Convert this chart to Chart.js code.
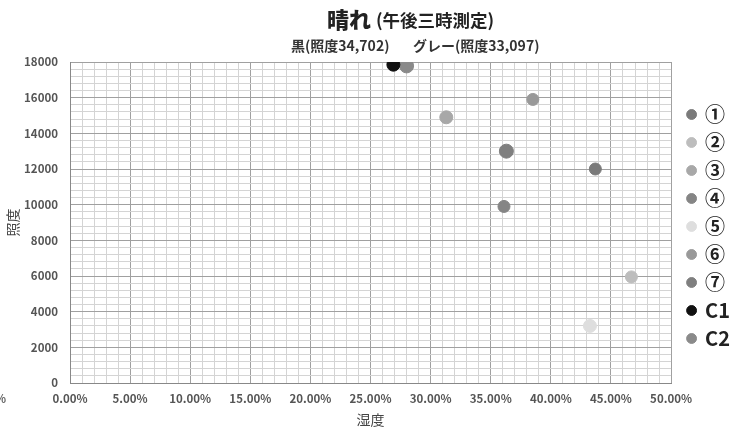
<!DOCTYPE html>
<html>
<head>
<meta charset="utf-8">
<script src="https://cdn.jsdelivr.net/npm/chart.js@4/dist/chart.umd.min.js"></script>
<style>
  html, body { margin: 0; padding: 0; background: #fff; }
  #wrap { width: 750px; height: 428px; position: relative; }
</style>
</head>
<body>
<div id="wrap"><canvas id="c" width="750" height="428"></canvas></div>
<script>
// Sunny-day readings taken at 3 p.m.: humidity (%) vs. illuminance (lx)
const seriesNames = ['①', '②', '③', '④', '⑤', '⑥', '⑦', 'C1', 'C2'];
const humidity    = [43.7, 46.7, 31.3, 36.1, 43.25, 38.5, 36.3, 26.9, 28.0];
const illuminance = [12000, 5950, 14900, 9900, 3200, 15900, 13000, 17850, 17780];

const pointColors = ['#7a7a7a', '#bdbdbd', '#a8a8a8', '#858585', '#dedede', '#999999', '#7f7f7f', '#111111', '#8a8a8a'];
const pointSizes  = [6, 6, 6.5, 6, 6.5, 6, 7, 6.5, 7];

const titleMain = '晴れ';
const titleNote = '(午後三時測定)';
const noteBlack = '黒(照度34,702)';
const noteGray  = 'グレー(照度33,097)';
const xAxisTitle = '湿度';
const yAxisTitle = '照度';

const JP = '"Noto Sans CJK JP", "Noto Sans", sans-serif';

const datasets = seriesNames.map((name, i) => ({
  label: name,
  data: [{ x: humidity[i], y: illuminance[i] }],
  backgroundColor: pointColors[i],
  borderColor: pointColors[i],
  pointRadius: pointSizes[i],
  pointHoverRadius: pointSizes[i],
  pointStyle: 'circle'
}));

const headerPlugin = {
  id: 'header',
  afterDraw(chart) {
    const ctx = chart.ctx;
    ctx.save();
    ctx.fillStyle = '#222';
    ctx.textBaseline = 'alphabetic';
    ctx.textAlign = 'left';
    // main title: large part followed by a smaller parenthetical
    ctx.font = '900 22px ' + JP;
    ctx.fillText(titleMain, 327, 28);
    ctx.font = 'bold 17.5px ' + JP;
    ctx.fillText(titleNote, 376, 27);
    // sub notes under the title
    ctx.font = 'bold 14px ' + JP;
    ctx.fillStyle = '#333';
    ctx.fillText(noteBlack, 291, 51);
    ctx.fillText(noteGray, 413, 51);
    // clipped label at far left of the axis row
    ctx.font = 'bold 11.5px ' + JP;
    ctx.fillStyle = '#666';
    ctx.textAlign = 'right';
    ctx.fillText('0.00%', 6, 403);
    ctx.restore();
  }
};

new Chart(document.getElementById('c'), {
  type: 'scatter',
  data: { datasets },
  options: {
    responsive: false,
    animation: false,
    layout: { padding: { top: 62, left: 0, right: 10, bottom: 0 } },
    plugins: {
      title: { display: false },
      tooltip: { enabled: false },
      legend: {
        position: 'right',
        align: 'center',
        fullSize: false,
        title: {
          display: true,
          text: ' ',
          font: { size: 5 },
          padding: { top: 1, bottom: 1 }
        },
        labels: {
          usePointStyle: true,
          boxWidth: 7,
          boxHeight: 7,
          padding: 8,
          color: '#222',
          font: { family: JP, size: 20, weight: 'bold' }
        }
      }
    },
    scales: {
      x: {
        type: 'linear',
        min: 0,
        max: 50,
        border: { color: '#888', width: 1 },
        grid: {
          drawTicks: false,
          color: c => (c.tick && c.tick.value % 5 === 0) ? '#a0a0a0' : '#d4d4d4',
          lineWidth: 1
        },
        ticks: {
          stepSize: 1,
          autoSkip: false,
          maxRotation: 0,
          padding: 9,
          color: '#555',
          font: { family: JP, size: 11.5, weight: 'bold' },
          callback: v => (v % 5 === 0 ? v.toFixed(2) + '%' : '')
        },
        title: {
          display: true,
          text: xAxisTitle,
          color: '#444',
          font: { family: JP, size: 14 },
          padding: { top: 0, bottom: 0 }
        },
        afterFit(scale) { scale.height = 45; }
      },
      y: {
        type: 'linear',
        min: 0,
        max: 18000,
        border: { color: '#888', width: 1 },
        grid: {
          drawTicks: false,
          color: c => (c.tick && c.tick.value % 2000 === 0) ? '#a0a0a0' : '#d4d4d4',
          lineWidth: 1
        },
        ticks: {
          stepSize: 400,
          autoSkip: false,
          padding: 12,
          color: '#555',
          font: { family: JP, size: 11.5, weight: 'bold' },
          callback: v => (v % 2000 === 0 ? String(v) : '')
        },
        title: {
          display: true,
          text: yAxisTitle,
          color: '#444',
          font: { family: JP, size: 14 },
          padding: { top: 4, bottom: 4 }
        },
        afterFit(scale) { scale.width = 70; }
      },
      // blank right-hand strip that keeps the legend clear of the plot
      gap: {
        type: 'linear',
        position: 'right',
        min: 0,
        max: 1,
        display: true,
        grid: { display: false, drawOnChartArea: false },
        border: { display: false },
        ticks: { display: false },
        afterFit(scale) { scale.width = 9; }
      }
    }
  },
  plugins: [headerPlugin]
});
</script>
</body>
</html>
